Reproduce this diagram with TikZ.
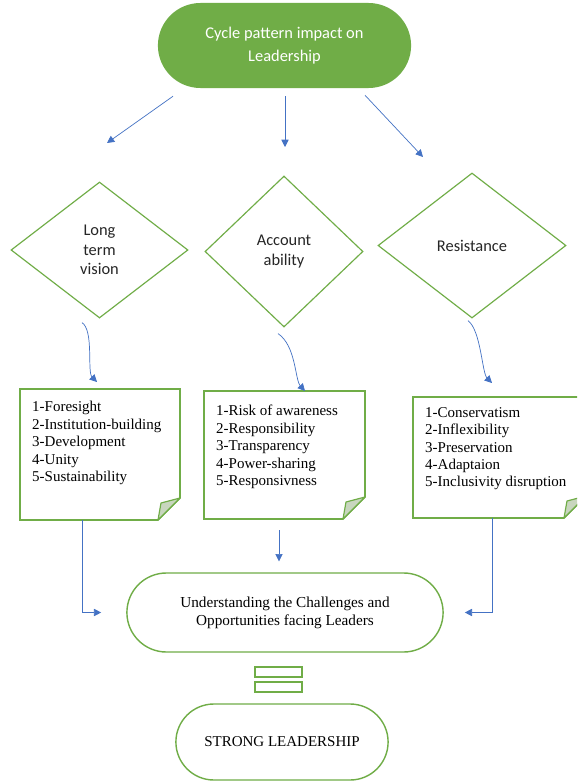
\documentclass[tikz,border=0pt]{standalone}
\usepackage{fontspec}
\setmainfont{Carlito}
\newfontfamily\timesfont{Liberation Serif}
\usetikzlibrary{shapes,arrows.meta,fit,calc}
\definecolor{leafgreen}{RGB}{112,173,71}
\definecolor{arrowblue}{RGB}{68,114,196}
\definecolor{foldgray}{RGB}{200,214,190}
\definecolor{inkgray}{RGB}{38,38,38}

\begin{document}
\begin{tikzpicture}[
  x=0.03cm, y=-0.03cm,
  start/.style={rounded rectangle, fill=leafgreen, text=white, minimum width=7.83cm, minimum height=2.55cm, align=center, font=\fontsize{14}{19.5}\selectfont},
  choice/.style={diamond, draw=leafgreen, line width=1pt, inner sep=0pt, align=center, text=inkgray, font=\fontsize{14}{16.5}\selectfont},
  note/.style={rectangle, inner sep=0pt, outer sep=0pt},
  noteline/.style={draw=leafgreen, line width=1.3pt},
  fold/.style={fill=foldgray, draw=leafgreen, line width=1pt, line join=round},
  items/.style={anchor=north west, inner sep=0pt, align=left, font=\timesfont\fontsize{12.8}{14.9}\selectfont},
  terminal/.style={rounded rectangle, draw=leafgreen, line width=1.2pt, align=center, font=\timesfont\fontsize{13}{15.3}\selectfont},
  bar/.style={draw=leafgreen, line width=1.2pt, minimum width=1.41cm, minimum height=0.3cm, inner sep=0pt},
  arr/.style={arrowblue, line width=0.6pt, -{Triangle[length=6.2pt,width=6.2pt]}},
]

\useasboundingbox (0,0) rectangle (577,781);
\clip (0,0) rectangle (577,781);
\fill[white] (0,0) rectangle (577,781);

\node (topic) [start] at (284.5,45.5) {Cycle pattern impact on\\Leadership};

\node (dia0) [choice, minimum width=5.31cm, minimum height=4.08cm] at (99.5,250) {Long\\term\\vision};
\node (dia1) [choice, minimum width=4.74cm, minimum height=4.53cm] at (284,251.5) {Account\\ability};
\node (dia2) [choice, minimum width=5.64cm, minimum height=4.35cm] at (472,245.5) {Resistance};

\coordinate (tip0) at (107,143);
\coordinate (tip1) at (285,147);
\coordinate (tip2) at (423,157);
\draw[arr] ([shift={(-3.345cm,-0.24cm)}]topic.south) -- (tip0);
\draw[arr] ([shift={(0.015cm,-0.24cm)}]topic.south) -- (tip1);
\draw[arr] ([shift={(2.415cm,-0.21cm)}]topic.south) -- (tip2);

% notes with folded corner
\node (note0) [note, fit={(20,389) (180,520)}] {};
\node (note1) [note, fit={(204,391) (365,519)}] {};
\node (note2) [note, fit={(413,397) (586,518)}] {};

\foreach \n in {0,1,2} {
  \fill[white] (note\n.north west) rectangle (note\n.south east);
  \draw[noteline] (note\n.north west) -- (note\n.north east)
    -- ([yshift=0.66cm]note\n.south east) -- ([xshift=-0.66cm]note\n.south east)
    -- (note\n.south west) -- cycle;
  \filldraw[fold] ([xshift=-0.66cm]note\n.south east) -- ([yshift=0.66cm]note\n.south east)
    -- ([shift={(-0.57cm,0.51cm)}]note\n.south east) -- cycle;
}

\node (list0) [items] at (32,401) {1-Foresight\\2-Institution-building\\3-Development\\4-Unity\\5-Sustainability};
\node (list1) [items] at (216,405) {1-Risk of awareness\\2-Responsibility\\3-Transparency\\4-Power-sharing\\5-Responsivness};
\node (list2) [items] at (425,407) {1-Conservatism\\2-Inflexibility\\3-Preservation\\4-Adaptaion\\5-Inclusivity disruption};

\draw[arr] ([shift={(-0.525cm,-0.12cm)}]dia0.south) .. controls +(12,8) and +(-10,-10) .. ([shift={(-0.09cm,0.21cm)}]note0.north);
\draw[arr] ([shift={(-0.18cm,-0.18cm)}]dia1.south) .. controls +(18,12) and +(-10,-11) .. ([shift={(0.615cm,0cm)}]note1.north);
\draw[arr] ([shift={(-0.12cm,-0.06cm)}]dia2.south) .. controls +(13,10) and +(-10,-10) .. ([shift={(-0.225cm,0.42cm)}]note2.north);

\node (under) [terminal, minimum width=9.72cm, minimum height=2.37cm] at (285,612.5) {Understanding the Challenges and\\Opportunities facing Leaders};

\draw[arr] ([xshift=-0.54cm]note0.south) |- ([xshift=-0.75cm]under.west);
\draw[arr] ([shift={(-0.165cm,-0.33cm)}]note1.south) -- ([shift={(-0.18cm,0.33cm)}]under.north);
\draw[arr] ([xshift=-0.225cm]note2.south) |- ([xshift=0.63cm]under.east);

\node (bar0) [bar] at (278.5,672) {};
\node (bar1) [bar] at (278.5,687) {};

\node (strong) [terminal, minimum width=6.6cm, minimum height=2.28cm, font=\timesfont\fontsize{12.8}{15}\selectfont] at (282,742) {STRONG LEADERSHIP};

\end{tikzpicture}
\end{document}
